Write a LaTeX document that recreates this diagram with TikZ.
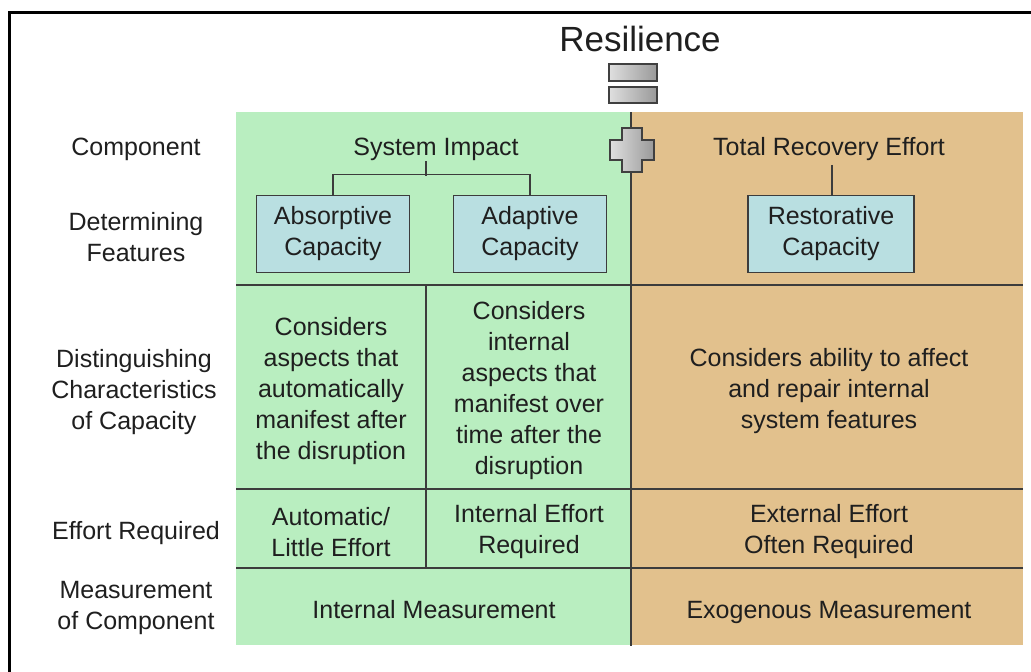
\documentclass[tikz,border=0pt]{standalone}
\usepackage{fontspec}
\setmainfont{Liberation Sans}
\definecolor{lightgreen}{RGB}{185,238,192}
\definecolor{tanbg}{RGB}{226,193,141}
\definecolor{boxblue}{RGB}{185,223,225}
\definecolor{linegray}{RGB}{60,60,60}
\begin{document}
\begin{tikzpicture}[x=1pt,y=-1pt,
  txt/.style={font=\fontsize{25}{31}\selectfont, align=center, inner sep=0pt, text=black!88},
  capbox/.style={draw=linegray, line width=1.8pt, fill=boxblue, minimum width=153pt, minimum height=77pt, txt},
  gridline/.style={draw=linegray, line width=1.6pt},
  conn/.style={draw=linegray, line width=1.5pt},
  bar/.style={draw=black!75, line width=1.2pt, left color=gray!25, right color=gray!80}]
\useasboundingbox (0,0) rectangle (1031,672);
\fill[white] (0,0) rectangle (1031,672);
\draw[line width=3pt] (9,672) -- (9,12) -- (1031,12);
% backgrounds
\fill[lightgreen] (236,112) rectangle (631,645);
\fill[tanbg] (631,112) rectangle (1023,645);
% grid lines
\draw[gridline] (236,285) -- (1023,285);
\draw[gridline] (236,489) -- (1023,489);
\draw[gridline] (236,568) -- (1023,568);
\draw[gridline] (426,285) -- (426,568);
\draw[gridline] (631,112) -- (631,646);
% title and operators
\node[txt, font=\fontsize{35}{40}\selectfont] (res) at (640,39) {Resilience};
\path[bar] (609,64) rectangle (657,81);
\path[bar] (609,87) rectangle (657,103);
\path[bar] (622,128) -- (642,128) -- (642,140) -- (654,140) -- (654,160) -- (642,160) -- (642,172) -- (622,172) -- (622,160) -- (610,160) -- (610,140) -- (622,140) -- cycle;
% row labels
\node[txt] (l1) at (136,149) {Component};
\node[txt] (l2) at (136,237) {Determining\\Features};
\node[txt] (l3) at (134,392) {Distinguishing\\Characteristics\\of Capacity};
\node[txt] (l4) at (136,533) {Effort Required};
\node[txt] (l5) at (136,608) {Measurement\\of Component};
% component row
\node[txt] (si) at (436,149) {System Impact};
\node[txt] (tre) at (829,149) {Total Recovery Effort};
% capacity boxes
\node[capbox] (abs) at (333,234) {Absorptive\\Capacity};
\node[capbox] (ada) at (530,234) {Adaptive\\Capacity};
\node[capbox, minimum width=166pt] (rst) at (831,234) {Restorative\\Capacity};
\coordinate (jn) at (426,176);
\draw[conn] (426,161) -- (jn);
\draw[conn] (abs.north) -- ++(0,-20) -| (ada.north);
\draw[conn] (tre.south) ++(3,4) -- (rst.north -| 832,0);
% characteristics
\node[txt] (c1) at (331,391) {Considers\\aspects that\\automatically\\manifest after\\the disruption};
\node[txt] (c2) at (529,391) {Considers\\internal\\aspects that\\manifest over\\time after the\\disruption};
\node[txt] (c3) at (829,391) {Considers ability to affect\\and repair internal\\system features};
% effort
\node[txt] (e1) at (331,532) {Automatic/\\Little Effort};
\node[txt] (e2) at (529,532) {Internal Effort\\Required};
\node[txt] (e3) at (829,532) {External Effort\\Often Required};
% measurement
\node[txt, anchor=base] (m1) at (434,618) {Internal Measurement};
\node[txt, anchor=base] (m2) at (829,618) {Exogenous Measurement};
\end{tikzpicture}
\end{document}
